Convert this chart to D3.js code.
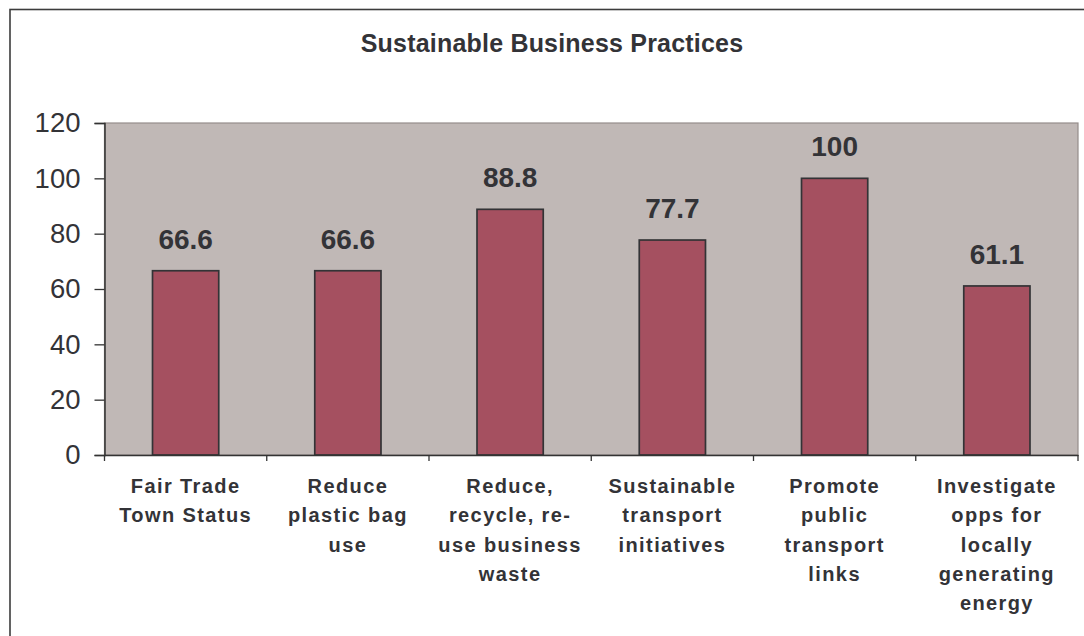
<!DOCTYPE html>
<html>
<head>
<meta charset="utf-8">
<script src="https://cdn.jsdelivr.net/npm/d3@7"></script>
<style>
  html, body { margin: 0; padding: 0; background: #fff; }
  svg { display: block; font-family: "Liberation Sans", Arial, sans-serif; }
</style>
</head>
<body>
<svg id="chart" width="1084" height="636"></svg>
<script>
// Survey results: share of respondents supporting each practice
const chartTitle = "Sustainable Business Practices";
const categories = [
  "Fair Trade\nTown Status",
  "Reduce\nplastic bag\nuse",
  "Reduce,\nrecycle, re-\nuse business\nwaste",
  "Sustainable\ntransport\ninitiatives",
  "Promote\npublic\ntransport\nlinks",
  "Investigate\nopps for\nlocally\ngenerating\nenergy"
];
const values = [66.6, 66.6, 88.8, 77.7, 100, 61.1];
const valueLabels = ["66.6", "66.6", "88.8", "77.7", "100", "61.1"];
const yTicks = [0, 20, 40, 60, 80, 100, 120];

const svg = d3.select("#chart");
const textColor = "#333337";

// plot area geometry
const plot = { left: 104.5, right: 1078, top: 123, bottom: 455 };

const x = d3.scaleBand()
  .domain(d3.range(categories.length))
  .range([plot.left, plot.right])
  .paddingInner(0)
  .paddingOuter(0);

const y = d3.scaleLinear()
  .domain([0, 120])
  .range([plot.bottom, plot.top]);

// outer chart frame (continues past right and bottom edges)
svg.append("rect")
  .attr("x", 10).attr("y", 9.5)
  .attr("width", 1200).attr("height", 800)
  .attr("fill", "none")
  .attr("stroke", "#3c3c3c")
  .attr("stroke-width", 1.6);

// title
svg.append("text")
  .attr("x", 552).attr("y", 51.5)
  .attr("text-anchor", "middle")
  .attr("font-size", 25)
  .attr("font-weight", "bold")
  .attr("letter-spacing", 0.2)
  .attr("fill", textColor)
  .text(chartTitle);

// plot background
svg.append("rect")
  .attr("x", plot.left).attr("y", plot.top)
  .attr("width", plot.right - plot.left)
  .attr("height", plot.bottom - plot.top)
  .attr("fill", "#c0b8b6")
  .attr("stroke", "#958d8b")
  .attr("stroke-width", 1.2);

// bars
const barWidth = x.bandwidth() / 2.45;
svg.append("g").selectAll("rect")
  .data(values)
  .join("rect")
  .attr("x", (d, i) => x(i) + (x.bandwidth() - barWidth) / 2)
  .attr("y", d => y(d))
  .attr("width", barWidth)
  .attr("height", d => y(0) - y(d))
  .attr("fill", "#a55060")
  .attr("stroke", "#333336")
  .attr("stroke-width", 1.7);

// value labels
svg.append("g").selectAll("text")
  .data(values)
  .join("text")
  .attr("x", (d, i) => x(i) + x.bandwidth() / 2)
  .attr("y", d => y(d) - 22)
  .attr("text-anchor", "middle")
  .attr("font-size", 28)
  .attr("font-weight", "bold")
  .attr("fill", textColor)
  .text((d, i) => valueLabels[i]);

// y axis
const yAxis = d3.axisLeft(y)
  .tickValues(yTicks)
  .tickSize(10)
  .tickPadding(14)
  .tickFormat(d3.format("d"));
const yg = svg.append("g")
  .attr("transform", `translate(${plot.left},0)`)
  .call(yAxis);
yg.select(".domain").attr("stroke", "#333").attr("stroke-width", 1.5);
yg.selectAll(".tick line").attr("stroke", "#333").attr("stroke-width", 1.3);
yg.selectAll(".tick text")
  .attr("font-size", 27.5)
  .attr("font-family", "Liberation Sans, Arial, sans-serif")
  .attr("fill", textColor);

// x axis: baseline with separators between categories
const xAxis = d3.axisBottom(x).tickSize(0).tickFormat("");
const xg = svg.append("g")
  .attr("transform", `translate(0,${plot.bottom})`)
  .call(xAxis);
xg.select(".domain").attr("stroke", "#333").attr("stroke-width", 1.6);
xg.selectAll(".tick").remove();
const boundaries = d3.range(categories.length + 1).map(i =>
  i < categories.length ? x(i) : x(i - 1) + x.bandwidth());
xg.selectAll("line.sep")
  .data(boundaries)
  .join("line")
  .attr("class", "sep")
  .attr("x1", d => d).attr("x2", d => d)
  .attr("y1", 0).attr("y2", 6)
  .attr("stroke", "#333").attr("stroke-width", 1.3);

// category labels
const lab = svg.append("g").selectAll("text")
  .data(categories)
  .join("text")
  .attr("text-anchor", "middle")
  .attr("font-size", 20)
  .attr("font-weight", "bold")
  .attr("letter-spacing", 1.4)
  .attr("fill", textColor);
lab.each(function(d, i) {
  const t = d3.select(this);
  d.split("\n").forEach((line, k) => {
    t.append("tspan")
      .attr("x", x(i) + x.bandwidth() / 2)
      .attr("y", plot.bottom + 38 + k * 29.3)
      .text(line);
  });
});
</script>
</body>
</html>
